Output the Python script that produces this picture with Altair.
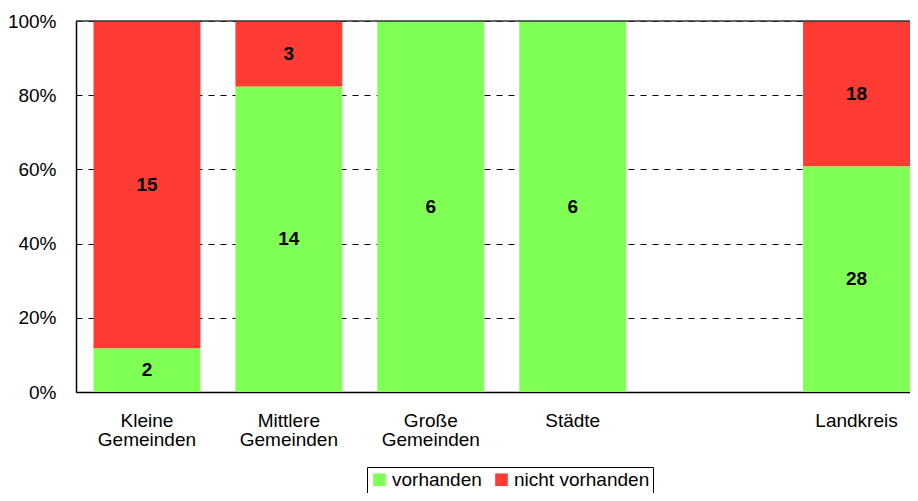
import altair as alt
import pandas as pd

categories = ["Kleine Gemeinden", "Mittlere Gemeinden", "Große Gemeinden", "Städte", "", "Landkreis"]
plot_categories = ["Kleine Gemeinden", "Mittlere Gemeinden", "Große Gemeinden", "Städte", "Landkreis"]
vorhanden = [2, 14, 6, 6, 28]
nicht_vorhanden = [15, 3, 0, 0, 18]
statuses = ["vorhanden", "nicht vorhanden"]
colors = ["#80ff55", "#ff3b33"]
y_ticks = [0, 0.2, 0.4, 0.6, 0.8, 1.0]

rows = []
for c, v, n in zip(plot_categories, vorhanden, nicht_vorhanden):
    rows.append({"cat": c, "status": "vorhanden", "ord": 0, "count": v})
    rows.append({"cat": c, "status": "nicht vorhanden", "ord": 1, "count": n})
df = pd.DataFrame(rows)

FONT = "Liberation Sans"
FS = 19

base = alt.Chart(df).transform_joinaggregate(
    total="sum(count)", groupby=["cat"]
).transform_window(
    cum="sum(count)", groupby=["cat"], sort=[alt.SortField("ord")],
    frame=[None, 0]
).transform_calculate(
    y_end="datum.cum / datum.total",
    y_start="(datum.cum - datum.count) / datum.total",
    y_mid="(datum.cum - datum.count / 2) / datum.total",
)

xscale = alt.Scale(domain=categories, paddingInner=0.2465, paddingOuter=0.0616, align=1)
yscale = alt.Scale(domain=[0, 1], nice=False)

bars = base.mark_bar().encode(
    x=alt.X("cat:N", scale=xscale, title=None,
            axis=alt.Axis(labelExpr="split(datum.label, ' ')", labelAngle=0, ticks=False,
                          labelPadding=19, labelFontSize=FS, labelFont=FONT, labelColor="black",
                          labelLineHeight=19, domainColor="black", domainWidth=1.5, grid=False)),
    y=alt.Y("y_start:Q", scale=yscale, title=None,
            axis=alt.Axis(values=y_ticks, format=".0%", ticks=False, labelPadding=20,
                          labelFontSize=FS, labelFont=FONT, labelColor="black",
                          domainColor="black", domainWidth=1.5,
                          grid=True, gridColor="black", gridDash=[6, 6], gridWidth=1, gridOpacity=1)),
    y2="y_end:Q",
    color=alt.Color("status:N", scale=alt.Scale(domain=statuses, range=colors), title=None,
                    legend=alt.Legend(orient="none", legendX=291, legendY=446, direction="horizontal",
                                      symbolType="square", symbolSize=160, symbolStrokeWidth=0,
                                      labelFontSize=FS, labelFont=FONT, labelColor="black",
                                      labelOffset=3, columnPadding=10, padding=3,
                                      strokeColor="black", fillColor="white")),
)

labels = base.transform_filter("datum.count > 0").mark_text(
    fontSize=FS, fontWeight="bold", font=FONT, color="black", baseline="middle"
).encode(
    x=alt.X("cat:N", scale=xscale),
    y=alt.Y("y_mid:Q", scale=yscale),
    text="count:Q",
)

top_line = alt.Chart(pd.DataFrame({"v": [1.0]})).mark_rule(color="#333333", strokeWidth=1.5).encode(
    y=alt.Y("v:Q", scale=yscale)
)

chart = alt.layer(bars, labels, top_line).properties(
    width=834, height=371,
    autosize=alt.AutoSizeParams(type="none"),
    padding={"left": 68, "top": 13, "right": 0, "bottom": 101},
).configure_view(stroke=None)

chart.save("out.html", embed_options={"renderer": "svg", "actions": False})
